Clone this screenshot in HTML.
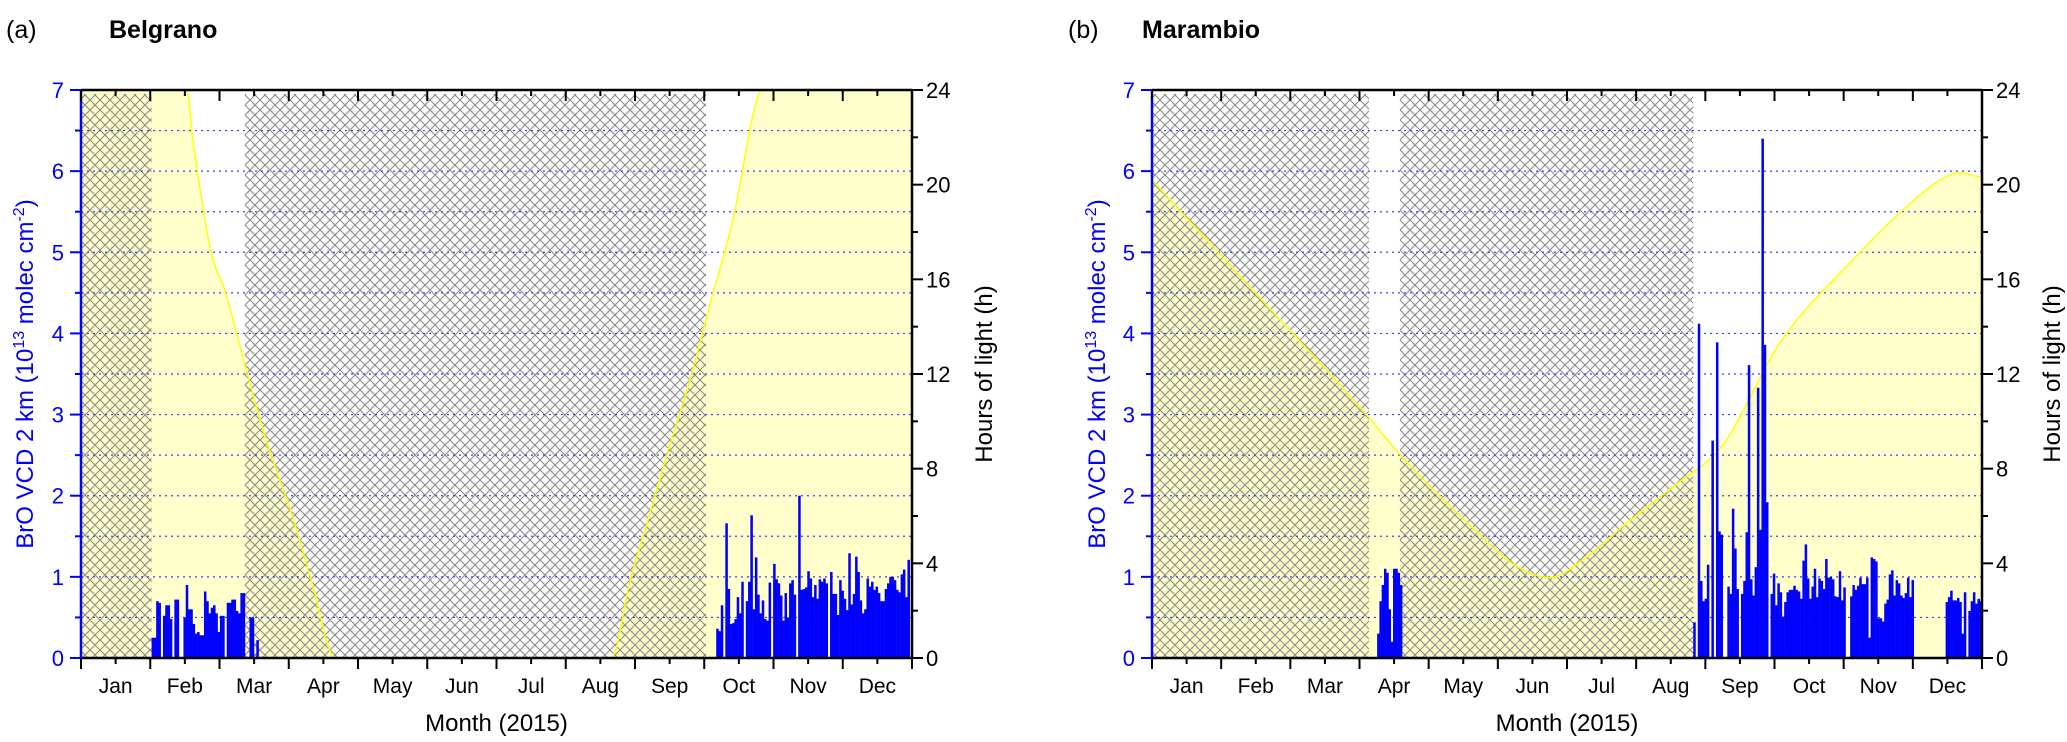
<!DOCTYPE html>
<html><head><meta charset="utf-8">
<style>
html,body{margin:0;padding:0;background:#fff;}
svg{display:block;font-family:"Liberation Sans",Arial,sans-serif;}
</style></head>
<body>
<svg id="chart" width="2067" height="742" viewBox="0 0 2067 742" xmlns="http://www.w3.org/2000/svg">
<defs>
<pattern id="hatch" patternUnits="userSpaceOnUse" width="10" height="10">
<path d="M0,0 L10,10 M10,0 L0,10" stroke="#8a8a8a" stroke-width="1.1" fill="none"/>
</pattern>
</defs>
</svg>
<script>
const months = ["Jan","Feb","Mar","Apr","May","Jun","Jul","Aug","Sep","Oct","Nov","Dec"];
const leftTicks = [0,1,2,3,4,5,6,7];
const rightTicks = [0,4,8,12,16,20,24];

// Panel a (Belgrano)
const aDaylightDays  = [0,46.5,49,53,57.5,63.3,72.5,82,92.5,102,111.6,233,241,249.5,258,267,277,287,296,299,365];
const aDaylightHours = [24,24,22,19.4,17,15.5,12.2,9.0,6.1,3.0,0,0,3.2,6,8.8,11.6,15.2,18.8,23.3,24,24];
const aHatchStart = [0,72];
const aHatchEnd = [31,274.5];
const aBarsFebStart = 31;
const aBarsFeb = [0.25,0.25,0.7,0.68,0,0.52,0.65,0.65,0.48,0,0.72,0.72,0,0,0.5,0.9,0.6,0.6,0.42,0.3,0.32,0.28,0.28,0.82,0.7,0.55,0.62,0.65,0.55,0.32,0.52,0.52,0,0.68,0.68,0.72,0.72,0.58,0.55,0.8,0.8,0,0,0.5,0.5,0,0.22];
const aBarsOctStart = 279;
const aBarsOct = [0.36,0.33,0.65,0,1.66,0.85,0.42,0.43,0.48,0.75,0.55,0.94,0,0.7,0.94,1.76,0.6,1.24,0.78,0.55,0.71,0.48,0.46,0.93,0,1.16,0.97,0.92,0.77,0.46,0.8,0.5,0.92,0.96,0.78,0,2.0,0.84,0.85,0.87,1.07,0.98,0.75,0.9,0.73,0.97,0.94,0.98,0.92,0,1.06,0.79,0.79,0.53,0.96,0.83,0.73,0.59,1.29,0.66,0.79,1.25,1.06,0.71,0.55,0.6,0.98,0.88,0.94,0.84,0.88,0.8,0.7,0.7,0.85,0.92,1.0,1.0,0.96,0.84,0.81,1.03,1.09,0.75,1.21];

// Panel b (Marambio)
const bDaylightDays  = [0,40,95,109,140,160,175,190,210,230,251,276,311,330,345,355,365];
const bDaylightHours = [20.2,16.0,10.2,8.6,5.6,3.9,3.4,4.2,5.8,7.3,9.0,13.3,17.1,18.9,20.1,20.5,20.3];
const bHatchStart = [0,109];
const bHatchEnd = [95.4,238];
const bBarsAprStart = 99;
const bBarsApr = [0.3,0.7,0.9,1.1,1.05,0.6,0.2,1.1,1.1,1.05,0.9];
const bBarsSepStart = 238;
const bBarsSep = [0.44,0,4.12,0.95,0.7,0.73,1.15,0,2.68,0,3.89,1.56,1.52,0,0,0.88,0.79,1.84,1.35,0.85,0,0.79,0.95,1.55,3.61,0.97,0.77,1.12,3.33,1.58,6.4,3.86,1.92,0,0.79,1.04,0.65,0.92,0.81,0.51,0.69,0.81,0.84,0.84,0.89,0.84,0.82,0.73,1.2,1.4,0.98,0.73,0.88,1.1,0.75,0.98,0.95,0.85,1.22,0.99,
1.0,0.97,0.76,0.75,1.07,0.71,0.87,0,0,0.76,0.9,0.84,0.89,0.99,0.91,0.91,0.99,0.25,1.24,1.22,1.19,0.49,0.49,0.45,0.67,0.72,1.03,1.08,0.77,0.96,0.92,0.77,0.74,0.8,0.99,0.75,0.96,
0,0,0,0,0,0,0,0,0,0,0,0,0,0,
0.69,0.75,0.83,0.71,0.71,0.74,0.69,0.3,0.81,0,0.58,0.7,0.81,0.67,0.73,0.7];

const NS = "http://www.w3.org/2000/svg";
const svg = document.getElementById("chart");
function mk(tag, attrs, parent){
  const e = document.createElementNS(NS, tag);
  for (const k in attrs) e.setAttribute(k, attrs[k]);
  (parent||svg).appendChild(e);
  return e;
}
// Monotone cubic (Fritsch-Carlson) interpolation — no overshoot
function smooth(xs, ys){
  const n = xs.length, d = [], m = new Array(n);
  for (let i=0;i<n-1;i++) d.push((ys[i+1]-ys[i])/(xs[i+1]-xs[i]));
  m[0]=d[0]; m[n-1]=d[n-2];
  for (let i=1;i<n-1;i++) m[i] = (d[i-1]*d[i]<=0) ? 0 : (d[i-1]+d[i])/2;
  for (let i=0;i<n-1;i++){
    if (d[i]===0){ m[i]=0; m[i+1]=0; continue; }
    const a=m[i]/d[i], b=m[i+1]/d[i], s=a*a+b*b;
    if (s>9){ const t=3/Math.sqrt(s); m[i]=t*a*d[i]; m[i+1]=t*b*d[i]; }
  }
  const out = [];
  for (let i=0;i<n-1;i++){
    const h = xs[i+1]-xs[i];
    for (let s=0;s<10;s++){
      const t=s/10, t2=t*t, t3=t2*t;
      const y=(2*t3-3*t2+1)*ys[i]+(t3-2*t2+t)*h*m[i]+(-2*t3+3*t2)*ys[i+1]+(t3-t2)*h*m[i+1];
      out.push((xs[i]+t*h).toFixed(1)+","+y.toFixed(1));
    }
  }
  out.push(xs[n-1].toFixed(1)+","+ys[n-1].toFixed(1));
  return out;
}

function panel(p){
  const L = p.left, R = p.right, T = 90, B = 658;
  const xS = d => L + d/365*(R-L);
  const yL = v => B - v/7*(B-T);
  const yR = h => B - h/24*(B-T);
  const g = mk("g", {});
  
  

  const pts = smooth(p.dDays.map(xS), p.dHours.map(yR));
  const fill = mk("polygon", {points: xS(0)+","+B+" "+pts.join(" ")+" "+xS(365)+","+B, fill:"#ffffcc", stroke:"none"}, g);
  
  

  p.hs.forEach((s,i)=>{
    const r = mk("rect", {x:xS(s), y:yL(6.95), width:xS(p.he[i])-xS(s), height:B-yL(6.95), fill:"url(#hatch)"}, g);
    
    
  });

  for (let v=0.5; v<7; v+=0.5){
    const l = mk("line", {x1:L, x2:R, y1:yL(v), y2:yL(v), stroke:"#3b3bff", "stroke-width":1.2, "stroke-dasharray":"2,4"}, g);
    
    
  }

  const ln = mk("polyline", {points: pts.join(" "), fill:"none", stroke:"#ffff00", "stroke-width":1.5}, g);
  
  

  const dw = (R-L)/365;
  p.bars.forEach(([start, vals])=>{
    vals.forEach((v,i)=>{
      if (v<=0) return;
      const r = mk("rect", {x:xS(start+i).toFixed(2), y:yL(v).toFixed(2), width:(dw+0.25).toFixed(2), height:(B-yL(v)).toFixed(2), fill:"#0000ff"}, g);
      
      
    });
  });

  mk("line", {x1:L, x2:R, y1:T, y2:T, stroke:"#000", "stroke-width":2.5}, g);
  mk("line", {x1:L, x2:R, y1:B, y2:B, stroke:"#000", "stroke-width":2.5}, g);
  mk("line", {x1:R, x2:R, y1:T, y2:B, stroke:"#000", "stroke-width":2.5}, g);
  const la = mk("line", {x1:L, x2:L, y1:T, y2:B, stroke:"#0000ff", "stroke-width":2.5}, g);
  
  

  const mw = (R-L)/12;
  for (let m=0; m<=12; m++){
    const x = L + m*mw;
    mk("line", {x1:x, x2:x, y1:B, y2:B+11, stroke:"#000", "stroke-width":2}, g);
    mk("line", {x1:x, x2:x, y1:T, y2:T+11, stroke:"#000", "stroke-width":2}, g);
    if (m<12){
      const xm = x + mw/2;
      mk("line", {x1:xm, x2:xm, y1:B, y2:B+6, stroke:"#000", "stroke-width":2}, g);
      mk("line", {x1:xm, x2:xm, y1:T, y2:T+6, stroke:"#000", "stroke-width":2}, g);
      const t = mk("text", {x:xm, y:693, "font-size":21, "text-anchor":"middle", fill:"#000"}, g);
      t.textContent = months[m];
      
      
    }
  }
  leftTicks.forEach(v=>{
    mk("line", {x1:L-11, x2:L, y1:yL(v), y2:yL(v), stroke:"#0000ff", "stroke-width":2}, g);
    if (v<7) mk("line", {x1:L-6, x2:L, y1:yL(v+0.5), y2:yL(v+0.5), stroke:"#0000ff", "stroke-width":2}, g);
    const t = mk("text", {x:L-17, y:yL(v)+8, "font-size":22, "text-anchor":"end", fill:"#0000ff"}, g);
    t.textContent = v;
    
    
  });
  rightTicks.forEach(h=>{
    mk("line", {x1:R, x2:R+11, y1:yR(h), y2:yR(h), stroke:"#000", "stroke-width":2}, g);
    if (h<24) mk("line", {x1:R, x2:R+6, y1:yR(h+2), y2:yR(h+2), stroke:"#000", "stroke-width":2}, g);
    const t = mk("text", {x:R+14, y:yR(h)+8, "font-size":22, "text-anchor":"start", fill:"#000"}, g);
    t.textContent = h;
    
    
  });

  const xt = mk("text", {x:(L+R)/2, y:731, "font-size":24, "text-anchor":"middle", fill:"#000"}, g);
  xt.textContent = "Month (2015)";
  
  

  const cy = (T+B)/2;
  const yt = mk("text", {x:p.ltx, y:cy, "font-size":24, "text-anchor":"middle", fill:"#0000ff", transform:`rotate(-90 ${p.ltx} ${cy})`}, g);
  yt.innerHTML = 'BrO VCD 2 km (10<tspan dy="-9" font-size="16">13</tspan><tspan dy="9"> molec cm</tspan><tspan dy="-9" font-size="16">-2</tspan><tspan dy="9">)</tspan>';
  
  

  const rt = mk("text", {x:p.rtx, y:cy, "font-size":24, "text-anchor":"middle", fill:"#000", transform:`rotate(-90 ${p.rtx} ${cy})`}, g);
  rt.textContent = "Hours of light (h)";
  
  

  const lab = mk("text", {x:p.labx, y:38, "font-size":25, fill:"#000"}, g);
  lab.textContent = p.label;
  
  
  const st = mk("text", {x:p.stx, y:38, "font-size":25, "font-weight":"bold", fill:"#000"}, g);
  st.textContent = p.station;
  
  
}

panel({name:"belgrano", left:81, right:912, dDays:aDaylightDays, dHours:aDaylightHours, hs:aHatchStart, he:aHatchEnd,
  bars:[[aBarsFebStart,aBarsFeb],[aBarsOctStart,aBarsOct]], ltx:33, rtx:992, label:"(a)", labx:6, station:"Belgrano", stx:109});
panel({name:"marambio", left:1152, right:1982, dDays:bDaylightDays, dHours:bDaylightHours, hs:bHatchStart, he:bHatchEnd,
  bars:[[bBarsAprStart,bBarsApr],[bBarsSepStart,bBarsSep]], ltx:1105, rtx:2060, label:"(b)", labx:1068, station:"Marambio", stx:1142});
</script>
</body></html>
